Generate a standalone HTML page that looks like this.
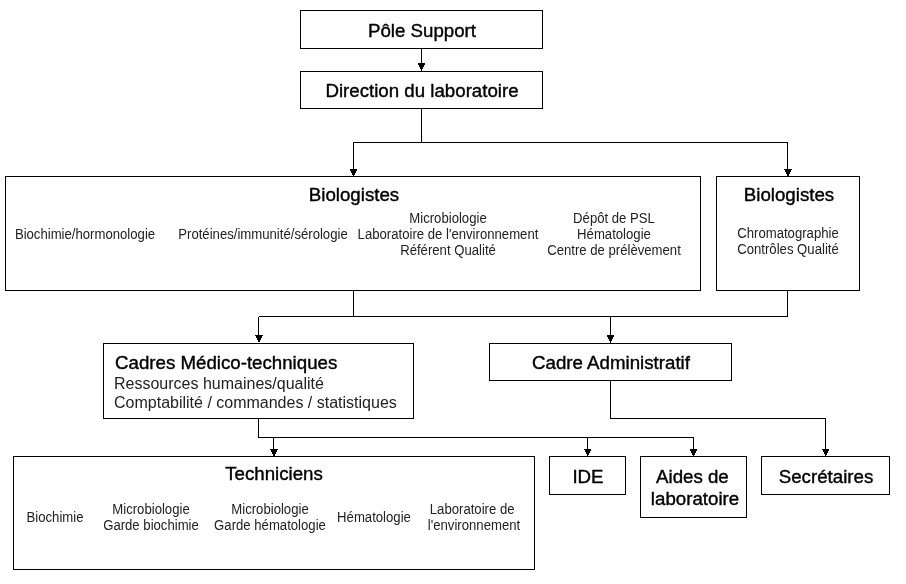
<!DOCTYPE html>
<html><head><meta charset="utf-8"><style>
html,body{margin:0;padding:0;background:#fff;}
body{width:906px;height:584px;position:relative;overflow:hidden;}
svg{position:absolute;left:0;top:0;}
.t{position:absolute;font-family:"Liberation Sans",sans-serif;color:#000;white-space:pre;line-height:20px;will-change:transform;}
.b{-webkit-text-stroke:0.4px #000;}
.s{transform:scaleY(1.1);transform-origin:0 14px;color:#222;}
.m{color:#222;}
</style></head><body>
<svg width="906" height="584" shape-rendering="crispEdges" fill="#000"><rect x="300" y="10" width="243" height="1"/><rect x="300" y="48" width="243" height="1"/><rect x="300" y="10" width="1" height="39"/><rect x="542" y="10" width="1" height="39"/><rect x="300" y="71" width="243" height="1"/><rect x="300" y="108" width="243" height="1"/><rect x="300" y="71" width="1" height="38"/><rect x="542" y="71" width="1" height="38"/><rect x="5" y="176" width="696" height="1"/><rect x="5" y="290" width="696" height="1"/><rect x="5" y="176" width="1" height="115"/><rect x="700" y="176" width="1" height="115"/><rect x="716" y="176" width="144" height="1"/><rect x="716" y="290" width="144" height="1"/><rect x="716" y="176" width="1" height="115"/><rect x="859" y="176" width="1" height="115"/><rect x="103" y="343" width="311" height="1"/><rect x="103" y="418" width="311" height="1"/><rect x="103" y="343" width="1" height="76"/><rect x="413" y="343" width="1" height="76"/><rect x="489" y="343" width="243" height="1"/><rect x="489" y="380" width="243" height="1"/><rect x="489" y="343" width="1" height="38"/><rect x="731" y="343" width="1" height="38"/><rect x="13" y="456" width="522" height="1"/><rect x="13" y="569" width="522" height="1"/><rect x="13" y="456" width="1" height="114"/><rect x="534" y="456" width="1" height="114"/><rect x="549" y="456" width="77" height="1"/><rect x="549" y="494" width="77" height="1"/><rect x="549" y="456" width="1" height="39"/><rect x="625" y="456" width="1" height="39"/><rect x="640" y="456" width="107" height="1"/><rect x="640" y="517" width="107" height="1"/><rect x="640" y="456" width="1" height="62"/><rect x="746" y="456" width="1" height="62"/><rect x="761" y="456" width="129" height="1"/><rect x="761" y="494" width="129" height="1"/><rect x="761" y="456" width="1" height="39"/><rect x="889" y="456" width="1" height="39"/><rect x="421" y="48" width="1" height="24"/><rect x="421" y="108" width="1" height="35"/><rect x="353" y="142" width="435" height="1"/><rect x="353" y="142" width="1" height="35"/><rect x="787" y="142" width="1" height="35"/><rect x="353" y="290" width="1" height="27"/><rect x="259" y="316" width="529" height="1"/><rect x="258" y="317" width="1" height="25"/><rect x="787" y="290" width="1" height="27"/><rect x="610" y="316" width="1" height="28"/><rect x="258" y="418" width="1" height="20"/><rect x="258" y="437" width="436" height="1"/><rect x="273" y="437" width="1" height="20"/><rect x="587" y="437" width="1" height="20"/><rect x="693" y="437" width="1" height="20"/><rect x="610" y="380" width="1" height="39"/><rect x="610" y="418" width="216" height="1"/><rect x="825" y="418" width="1" height="39"/><rect x="418" y="63" width="7" height="1"/><rect x="418" y="64" width="7" height="1"/><rect x="419" y="65" width="5" height="1"/><rect x="419" y="66" width="5" height="1"/><rect x="420" y="67" width="3" height="1"/><rect x="420" y="68" width="3" height="1"/><rect x="350" y="169" width="7" height="1"/><rect x="350" y="170" width="7" height="1"/><rect x="351" y="171" width="5" height="1"/><rect x="351" y="172" width="5" height="1"/><rect x="352" y="173" width="3" height="1"/><rect x="352" y="174" width="3" height="1"/><rect x="784" y="169" width="8" height="1"/><rect x="785" y="170" width="6" height="1"/><rect x="785" y="171" width="6" height="1"/><rect x="786" y="172" width="4" height="1"/><rect x="786" y="173" width="4" height="1"/><rect x="787" y="174" width="2" height="1"/><rect x="787" y="175" width="2" height="1"/><rect x="255" y="335" width="8" height="1"/><rect x="256" y="336" width="6" height="1"/><rect x="256" y="337" width="6" height="1"/><rect x="257" y="338" width="4" height="1"/><rect x="257" y="339" width="4" height="1"/><rect x="258" y="340" width="2" height="1"/><rect x="258" y="341" width="2" height="1"/><rect x="607" y="335" width="7" height="1"/><rect x="607" y="336" width="7" height="1"/><rect x="608" y="337" width="5" height="1"/><rect x="608" y="338" width="5" height="1"/><rect x="609" y="339" width="3" height="1"/><rect x="609" y="340" width="3" height="1"/><rect x="270" y="449" width="8" height="1"/><rect x="271" y="450" width="6" height="1"/><rect x="271" y="451" width="6" height="1"/><rect x="272" y="452" width="4" height="1"/><rect x="272" y="453" width="4" height="1"/><rect x="273" y="454" width="2" height="1"/><rect x="273" y="455" width="2" height="1"/><rect x="584" y="449" width="7" height="1"/><rect x="585" y="450" width="6" height="1"/><rect x="585" y="451" width="5" height="1"/><rect x="586" y="452" width="4" height="1"/><rect x="586" y="453" width="3" height="1"/><rect x="587" y="454" width="2" height="1"/><rect x="587" y="455" width="1" height="1"/><rect x="690" y="449" width="7" height="1"/><rect x="690" y="450" width="7" height="1"/><rect x="691" y="451" width="5" height="1"/><rect x="691" y="452" width="5" height="1"/><rect x="692" y="453" width="3" height="1"/><rect x="692" y="454" width="3" height="1"/><rect x="822" y="449" width="7" height="1"/><rect x="823" y="450" width="6" height="1"/><rect x="823" y="451" width="5" height="1"/><rect x="824" y="452" width="4" height="1"/><rect x="824" y="453" width="3" height="1"/><rect x="825" y="454" width="2" height="1"/><rect x="825" y="455" width="1" height="1"/></svg>
<div class="t b" style="left:221.50px;top:21.00px;width:400px;text-align:center;font-size:18.7px">Pôle Support</div><div class="t b" style="left:221.50px;top:81.00px;width:400px;text-align:center;font-size:18.7px">Direction du laboratoire</div><div class="t b" style="left:154.00px;top:185.00px;width:400px;text-align:center;font-size:18.7px">Biologistes</div><div class="t b" style="left:588.50px;top:185.00px;width:400px;text-align:center;font-size:18.7px">Biologistes</div><div class="t s" style="left:-115.50px;top:225.00px;width:400px;text-align:center;font-size:13.15px">Biochimie/hormonologie</div><div class="t s" style="left:63.00px;top:225.00px;width:400px;text-align:center;font-size:13.15px">Protéines/immunité/sérologie</div><div class="t s" style="left:248.00px;top:209.00px;width:400px;text-align:center;font-size:13.15px">Microbiologie</div><div class="t s" style="left:248.00px;top:225.00px;width:400px;text-align:center;font-size:13.15px">Laboratoire de l&#39;environnement</div><div class="t s" style="left:248.00px;top:241.00px;width:400px;text-align:center;font-size:13.15px">Référent Qualité</div><div class="t s" style="left:414.00px;top:209.00px;width:400px;text-align:center;font-size:13.15px">Dépôt de PSL</div><div class="t s" style="left:414.00px;top:225.00px;width:400px;text-align:center;font-size:13.15px">Hématologie</div><div class="t s" style="left:414.00px;top:241.00px;width:400px;text-align:center;font-size:13.15px">Centre de prélèvement</div><div class="t s" style="left:587.50px;top:224.00px;width:400px;text-align:center;font-size:13.15px">Chromatographie</div><div class="t s" style="left:587.50px;top:240.00px;width:400px;text-align:center;font-size:13.15px">Contrôles Qualité</div><div class="t b" style="left:114.50px;top:353.00px;font-size:18.7px">Cadres Médico-techniques</div><div class="t m" style="left:114.00px;top:374.00px;font-size:16px">Ressources humaines/qualité</div><div class="t m" style="left:114.00px;top:393.00px;font-size:16px">Comptabilité / commandes / statistiques</div><div class="t b" style="left:411.00px;top:353.00px;width:400px;text-align:center;font-size:18.7px">Cadre Administratif</div><div class="t b" style="left:73.50px;top:464.00px;width:400px;text-align:center;font-size:18.7px">Techniciens</div><div class="t s" style="left:-145.50px;top:508.00px;width:400px;text-align:center;font-size:13.15px">Biochimie</div><div class="t s" style="left:-49.50px;top:500.00px;width:400px;text-align:center;font-size:13.15px">Microbiologie</div><div class="t s" style="left:-49.50px;top:516.00px;width:400px;text-align:center;font-size:13.15px">Garde biochimie</div><div class="t s" style="left:69.50px;top:500.00px;width:400px;text-align:center;font-size:13.15px">Microbiologie</div><div class="t s" style="left:69.50px;top:516.00px;width:400px;text-align:center;font-size:13.15px">Garde hématologie</div><div class="t s" style="left:173.50px;top:508.00px;width:400px;text-align:center;font-size:13.15px">Hématologie</div><div class="t s" style="left:273.50px;top:500.00px;width:400px;text-align:center;font-size:13.15px">Laboratoire de </div><div class="t s" style="left:274.00px;top:516.00px;width:400px;text-align:center;font-size:13.15px">l&#39;environnement</div><div class="t b" style="left:388.00px;top:467.00px;width:400px;text-align:center;font-size:18.7px">IDE</div><div class="t b" style="left:494.50px;top:467.00px;width:400px;text-align:center;font-size:18.7px">Aides de </div><div class="t b" style="left:494.50px;top:489.00px;width:400px;text-align:center;font-size:18.7px">laboratoire</div><div class="t b" style="left:626.00px;top:467.00px;width:400px;text-align:center;font-size:18.7px">Secrétaires</div>
</body></html>
